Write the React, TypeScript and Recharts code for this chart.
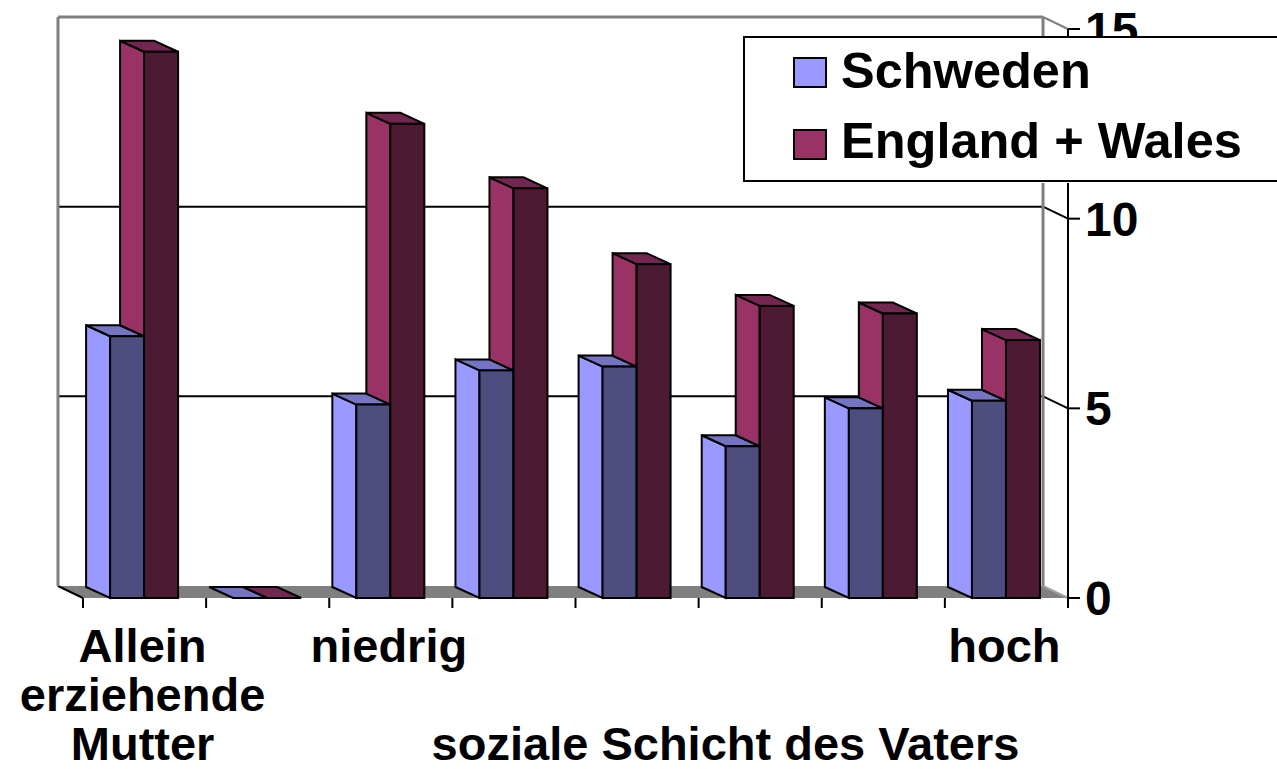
import React from 'react';
import { BarChart, Bar, XAxis, YAxis, CartesianGrid, Legend } from 'recharts';

// ---------- data ----------
const categories = ['Allein\nerziehende\nMutter', '', 'niedrig', '', '', '', '', 'hoch'];
const schweden = [6.9, 0, 5.1, 6.0, 6.1, 4.0, 5.0, 5.2];
const englandWales = [14.4, 0, 12.5, 10.8, 8.8, 7.7, 7.5, 6.8];
const yTicks = [0, 5, 10, 15];
const seriesNames = ['Schweden', 'England + Wales'];
const xAxisTitle = 'soziale Schicht des Vaters';

const data = categories.map((c, i) => ({
  idx: i,
  category: c,
  schweden: schweden[i],
  england: englandWales[i],
}));

// ---------- layout / style ----------
const W = 1277;
const H = 769;
const YAXIS_W = 80;
const XAXIS_H = 30;
const MARGIN = { top: 29, left: 83, right: 129, bottom: 141 };
const PLOT_TOP = MARGIN.top;
const PLOT_BOTTOM = H - MARGIN.bottom - XAXIS_H;
const WX = 25; // wall depth offset
const WY = 12;
const BX = 24; // bar depth offset
const BY = 11;
const FONT = '"Liberation Sans", Arial, Helvetica, sans-serif';

const COLORS = {
  schweden: { front: '#4D4D80', side: '#9999FF', top: '#7474C2' },
  england: { front: '#4D1A33', side: '#993366', top: '#732650' },
};

const pts = (arr: number[][]) => arr.map((p) => p.join(',')).join(' ');

function Box3D(props: any) {
  const { x, y, width: w, height: h, colors, sideBottom } = props;
  const bottom = y + h;
  const sb = sideBottom === undefined ? bottom : sideBottom;
  const stroke = { stroke: '#000', strokeWidth: 2, strokeLinejoin: 'miter' as const };
  return (
    <g>
      {sb > y + 0.5 && (
        <polygon
          points={pts([[x, y], [x - BX, y - BY], [x - BX, sb - BY], [x, sb]])}
          fill={colors.side}
          {...stroke}
        />
      )}
      <polygon
        points={pts([[x, y], [x - BX, y - BY], [x + w - BX, y - BY], [x + w, y]])}
        fill={colors.top}
        {...stroke}
      />
      {h > 0.5 && <rect x={x} y={y} width={w} height={h} fill={colors.front} {...stroke} />}
    </g>
  );
}

const SchwedenShape = (p: any) => <Box3D {...p} colors={COLORS.schweden} />;

const EnglandShape = (p: any) => {
  const { y, height: h, payload } = p;
  const bottom = y + h;
  let sideBottom = bottom;
  if (payload && payload.england > 0) {
    const perUnit = h / payload.england;
    const yS = bottom - payload.schweden * perUnit;
    sideBottom = Math.max(y, Math.min(bottom, yS));
  }
  return <Box3D {...p} colors={COLORS.england} sideBottom={sideBottom} />;
};

const renderHLine = (p: any) => {
  const { x1, x2, y1 } = p;
  const key = p.key ?? `h-${p.index}`;
  if (Math.abs(y1 - PLOT_BOTTOM) < 1) {
    return (
      <g key={key}>
        <polygon
          points={pts([[x1 - WX, y1 - WY], [x2 - WX, y1 - WY], [x2, y1], [x1, y1]])}
          fill="#808080"
        />
        <line x1={x1 - WX} y1={y1 - WY} x2={x1} y2={y1} stroke="#000" strokeWidth={2} />
        <line x1={x2 - WX} y1={y1 - WY} x2={x2} y2={y1} stroke="#A0A0A0" strokeWidth={2} />
      </g>
    );
  }
  const isTop = Math.abs(y1 - PLOT_TOP) < 1;
  const color = isTop ? '#808080' : '#000';
  const sw = isTop ? 3 : 2;
  return (
    <g key={key}>
      <line x1={x1 - WX} y1={y1 - WY} x2={x2 - WX} y2={y1 - WY} stroke={color} strokeWidth={sw} />
      <line x1={x2 - WX} y1={y1 - WY} x2={x2} y2={y1} stroke={color} strokeWidth={2} />
    </g>
  );
};

const renderVLine = (p: any) => {
  const key = p.key ?? `v-${p.index}`;
  return (
    <line
      key={key}
      x1={p.x1 - WX}
      y1={p.y1 - WY}
      x2={p.x2 - WX}
      y2={p.y2 - WY}
      stroke="#808080"
      strokeWidth={3}
    />
  );
};

const XTick = (p: any) => {
  const { x, y, payload, index, visibleTicksCount, width } = p;
  const half =
    (payload && payload.offset) ||
    (width && visibleTicksCount ? width / visibleTicksCount / 2 : 61.5);
  const label = categories[Number(payload.value)] || '';
  const lines = label ? label.split('\n') : [];
  const last = index === (visibleTicksCount || categories.length) - 1;
  return (
    <g>
      <line x1={x - half} y1={y} x2={x - half} y2={y + 10} stroke="#000" strokeWidth={2} />
      {last && <line x1={x + half} y1={y} x2={x + half} y2={y + 10} stroke="#000" strokeWidth={2} />}
      {lines.map((ln, i) => (
        <text
          key={i}
          x={x - 2}
          y={y + 64 + i * 49}
          textAnchor="middle"
          fontFamily={FONT}
          fontWeight="bold"
          fontSize={47}
          fill="#000"
        >
          {ln}
        </text>
      ))}
    </g>
  );
};

const YTick = (p: any) => (
  <text
    x={p.x}
    y={p.y}
    dy={17}
    textAnchor="start"
    fontFamily={FONT}
    fontWeight="bold"
    fontSize={48}
    fill="#000"
  >
    {p.payload.value}
  </text>
);

const TitleLabel = (p: any) => {
  const vb = p.viewBox || { x: MARGIN.left, y: PLOT_BOTTOM, width: W - MARGIN.left - MARGIN.right - YAXIS_W, height: XAXIS_H };
  return (
    <text
      x={vb.x + vb.width / 2 + 150}
      y={vb.y + 162}
      textAnchor="middle"
      fontFamily={FONT}
      fontWeight="bold"
      fontSize={47}
      fill="#000"
    >
      {xAxisTitle}
    </text>
  );
};

const LegendContent = (props: any) => {
  const payload = [...(props.payload || [])].sort(
    (a: any, b: any) => seriesNames.indexOf(a.value) - seriesNames.indexOf(b.value)
  );
  return (
    <svg width={534} height={147} style={{ display: 'block' }}>
      <rect x={0} y={0} width={534} height={147} fill="#fff" />
      <path d="M534 1 H1 V145 H534" fill="none" stroke="#000" strokeWidth={2} />
      {payload.map((item: any, i: number) => (
        <g key={item.value}>
          <rect x={51} y={22 + i * 72} width={32} height={29} fill={item.color} stroke="#000" strokeWidth={2} />
          <text
            x={98}
            y={52 + i * 70}
            fontFamily={FONT}
            fontWeight="bold"
            fontSize={50.5}
            fill="#000"
          >
            {item.value}
          </text>
        </g>
      ))}
    </svg>
  );
};

export default function App() {
  return (
    <div
      style={{
        position: 'absolute',
        left: 0,
        top: 0,
        width: W,
        height: H,
        background: '#fff',
        overflow: 'hidden',
      }}
    >
      <BarChart width={W} height={H} data={data} margin={MARGIN} barCategoryGap="22%" barGap={0}>
        <CartesianGrid
          horizontal={renderHLine}
          vertical={renderVLine}
          verticalCoordinatesGenerator={(args: any) => {
            const o = args.offset;
            return [o.left, o.left + o.width];
          }}
          fill="none"
        />
        <XAxis
          dataKey="idx"
          type="category"
          height={XAXIS_H}
          interval={0}
          axisLine={false}
          tickLine={false}
          tickSize={0}
          tickMargin={0}
          tick={<XTick />}
          label={<TitleLabel />}
        />
        <YAxis
          orientation="right"
          width={YAXIS_W}
          domain={[0, 15]}
          ticks={yTicks}
          interval={0}
          axisLine={{ stroke: '#000', strokeWidth: 2 }}
          tickLine={{ stroke: '#000', strokeWidth: 2 }}
          tickSize={12}
          tickMargin={5}
          tick={<YTick />}
        />
        <Legend
          layout="vertical"
          align="center"
          verticalAlign="middle"
          wrapperStyle={{ left: 743, top: 36, width: 534, height: 147 }}
          content={<LegendContent />}
        />
        <Bar
          dataKey="schweden"
          name={seriesNames[0]}
          fill={COLORS.schweden.side}
          shape={SchwedenShape}
          isAnimationActive={false}
        />
        <Bar
          dataKey="england"
          name={seriesNames[1]}
          fill={COLORS.england.side}
          shape={EnglandShape}
          isAnimationActive={false}
        />
      </BarChart>
    </div>
  );
}
